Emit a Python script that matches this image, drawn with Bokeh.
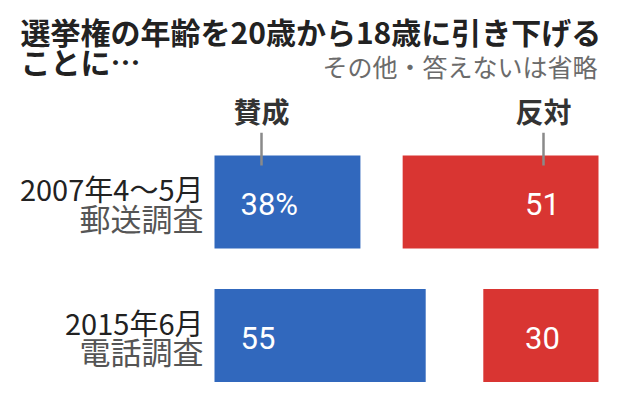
from bokeh.plotting import figure
from bokeh.models import Range1d, Label, ColumnDataSource
from bokeh.core.properties import value
from bokeh.embed import file_html
from bokeh.resources import INLINE

# ---- data ----
title_line1 = "選挙権の年齢を20歳から18歳に引き下げる"
title_line2 = "ことに…"
note = "その他・答えないは省略"
series_names = ["賛成", "反対"]
survey_dates = ["2007年4〜5月", "2015年6月"]
survey_methods = ["郵送調査", "電話調査"]
yes_values = [38, 55]
no_values = [51, 30]

# ---- style ----
W, H = 610, 388
BLUE = "#3168bd"
RED = "#d93532"
FONT = "Noto Sans CJK JP"
NUMFONT = "Roboto"
PX_PER_UNIT = 3.84
X0_PX = 214           # canvas px of value 0
ROW0_PX = 201.5       # canvas px of first row centre
ROW_STEP_PX = 133.5
BAR_H = 93 / ROW_STEP_PX
HALF = BAR_H / 2

rows = list(range(len(survey_dates)))
no_left = [100 - v for v in no_values]
yes_text = [f"{v}%" if i == 0 else str(v) for i, v in enumerate(yes_values)]
no_text = [str(v) for v in no_values]

x_start = -X0_PX / PX_PER_UNIT
x_end = (W - X0_PX) / PX_PER_UNIT
y_top = -ROW0_PX / ROW_STEP_PX
y_bot = (H - ROW0_PX) / ROW_STEP_PX

p = figure(width=W, height=H, output_backend="svg", toolbar_location=None,
           x_range=Range1d(x_start, x_end), y_range=Range1d(y_bot, y_top),
           x_axis_type=None, y_axis_type=None, min_border=0)
p.grid.visible = False
p.outline_line_color = None
p.background_fill_color = "white"
p.border_fill_color = "white"

src = ColumnDataSource(dict(row=rows, yes=yes_values, no_left=no_left,
                            yes_text=yes_text, no_text=no_text,
                            date=survey_dates, method=survey_methods))

p.hbar(y="row", left=0, right="yes", height=BAR_H, source=src,
       fill_color=BLUE, line_color=None)
p.hbar(y="row", left="no_left", right=100, height=BAR_H, source=src,
       fill_color=RED, line_color=None)

# value labels
p.text(x=0, y="row", text="yes_text", source=src, x_offset=26, y_offset=2,
       text_align="left", text_baseline="middle", text_color="white",
       text_font=value(NUMFONT), text_font_size="31px")
p.text(x=100, y="row", text="no_text", source=src, x_offset=-56, y_offset=2,
       text_align="center", text_baseline="middle", text_color="white",
       text_font=value(NUMFONT), text_font_size="31px")

# row labels
p.text(x=0, y="row", text="date", source=src, x_offset=-11, y_offset=-14,
       text_align="right", text_baseline="middle", text_color="#222222",
       text_font=value(FONT), text_font_size="29px")
p.text(x=0, y="row", text="method", source=src, x_offset=-11, y_offset=15,
       text_align="right", text_baseline="middle", text_color="#555555",
       text_font=value(FONT), text_font_size="31px")

# series headers with leader ticks
header_x = [(261 - X0_PX) / PX_PER_UNIT, (543 - X0_PX) / PX_PER_UNIT]
tick_top = rows[0] - HALF - 0.17
tick_bot = rows[0] - HALF + 0.075
p.segment(x0=header_x, x1=header_x, y0=[tick_top] * 2, y1=[tick_bot] * 2,
          line_color="#8a8a8a", line_width=2.5)
for name, hx in zip(series_names, header_x):
    p.add_layout(Label(x=hx, y=H - 110, x_units="data", y_units="screen",
                       text=name, text_align="center", text_baseline="middle",
                       text_font=FONT, text_font_size="28px",
                       text_font_style="bold", text_color="#333333"))

# titles
p.add_layout(Label(x=20, y=H - 30, x_units="screen", y_units="screen",
                   text=title_line1, text_align="left", text_baseline="middle",
                   text_font=FONT, text_font_size="30px", text_font_style="bold",
                   text_color="#222222"))
p.add_layout(Label(x=20, y=H - 60, x_units="screen", y_units="screen",
                   text=title_line2, text_align="left", text_baseline="middle",
                   text_font=FONT, text_font_size="30px", text_font_style="bold",
                   text_color="#222222"))
p.add_layout(Label(x=597, y=H - 65, x_units="screen", y_units="screen",
                   text=note, text_align="right", text_baseline="middle",
                   text_font=FONT, text_font_size="25px",
                   text_color="#6b6b6b"))

open("out.html", "w").write(file_html(p, INLINE))
